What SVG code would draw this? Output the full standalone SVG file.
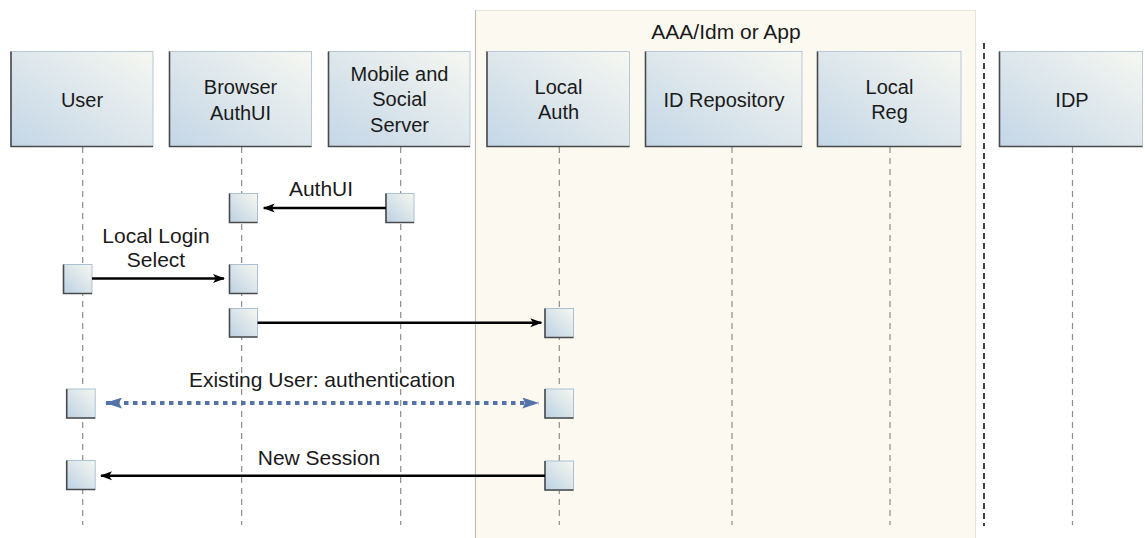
<svg xmlns="http://www.w3.org/2000/svg" width="1145" height="538" viewBox="0 0 1145 538">
<defs>
<linearGradient id="hg" x1="0" y1="1" x2="1" y2="0">
<stop offset="0" stop-color="#c4d6e6"/>
<stop offset="1" stop-color="#f6f7f1"/>
</linearGradient>
<linearGradient id="ag" x1="0" y1="1" x2="1" y2="0">
<stop offset="0" stop-color="#bcd1e3"/>
<stop offset="1" stop-color="#f6f7f0"/>
</linearGradient>
<marker id="ah" viewBox="0 0 12 10" markerWidth="12" markerHeight="10" refX="11" refY="5" orient="auto" markerUnits="userSpaceOnUse">
<path d="M0,0.5 L12,5 L0,9.5 L3,5 z" fill="#000"/>
</marker>
<marker id="bh" viewBox="0 0 17 11" markerWidth="17" markerHeight="11" refX="16" refY="5.5" orient="auto-start-reverse" markerUnits="userSpaceOnUse">
<path d="M0,0 L17,5.5 L0,11 L3,5.5 z" fill="#5473a8"/>
</marker>
</defs>
<style>
text{font-family:"Liberation Sans",Arial,Helvetica,sans-serif;font-size:20px;fill:#1a1a1a;text-anchor:middle}
text.m{font-size:21px}
.hb{fill:url(#hg);stroke:#b7c9d8;stroke-width:1}
.ab{fill:url(#ag);stroke:#aac1d5;stroke-width:1}
.sh{fill:none;stroke:#4a4a4a;stroke-width:1.6}
.ll{stroke:#8c8c8c;stroke-width:1.2;stroke-dasharray:6 5;fill:none}
.msg{stroke:#000;stroke-width:2.4;fill:none;marker-end:url(#ah)}
.dot{stroke:#5473a8;stroke-width:4;stroke-dasharray:4.5 4.5;fill:none;marker-start:url(#bh);marker-end:url(#bh)}
</style>
<rect width="1145" height="538" fill="#fff"/>
<g id="container">
<rect x="475.5" y="10.5" width="500" height="540" fill="#fcf9f1" stroke="#e9e4d8" stroke-width="1"/>
<line x1="475.5" y1="10.5" x2="475.5" y2="538" stroke="#c2beb5" stroke-width="1.2"/>
<text class="m" x="726" y="39.3">AAA/Idm or App</text>
</g>
<line id="separator" x1="984" y1="43" x2="984" y2="526" stroke="#111" stroke-width="1.6" stroke-dasharray="6 4"/>
<g id="lifelines">
<line class="ll" x1="82.7" y1="147" x2="82.7" y2="525"/>
<line class="ll" x1="241.7" y1="147" x2="241.7" y2="525"/>
<line class="ll" x1="400.7" y1="147" x2="400.7" y2="525"/>
<line class="ll" x1="559.3" y1="147" x2="559.3" y2="525"/>
<line class="ll" x1="732" y1="147" x2="732" y2="525"/>
<line class="ll" x1="890" y1="147" x2="890" y2="525"/>
<line class="ll" x1="1072.5" y1="147" x2="1072.5" y2="525"/>
</g>
<g id="user">
<rect class="hb" x="11" y="51.5" width="142" height="95"/>
<polyline class="sh" points="11,51.5 11,146.5 153,146.5"/>
<text x="82" y="106.7">User</text>
</g>
<g id="browser">
<rect class="hb" x="169.5" y="51.5" width="142" height="95"/>
<polyline class="sh" points="169.5,51.5 169.5,146.5 311.5,146.5"/>
<text x="240.5" y="94">Browser</text>
<text x="240.5" y="120">AuthUI</text>
</g>
<g id="mobile">
<rect class="hb" x="328.5" y="51.5" width="141.5" height="95"/>
<polyline class="sh" points="328.5,51.5 328.5,146.5 470,146.5"/>
<text x="399.5" y="80.7">Mobile and</text>
<text x="399.5" y="106.2">Social</text>
<text x="399.5" y="131.7">Server</text>
</g>
<g id="localauth">
<rect class="hb" x="487" y="51.5" width="142.5" height="95"/>
<polyline class="sh" points="487,51.5 487,146.5 629.5,146.5"/>
<text x="558.5" y="94">Local</text>
<text x="558.5" y="119.3">Auth</text>
</g>
<g id="idrepo">
<rect class="hb" x="645.5" y="51.5" width="156.5" height="95"/>
<polyline class="sh" points="645.5,51.5 645.5,146.5 802,146.5"/>
<text x="724" y="107.3">ID Repository</text>
</g>
<g id="localreg">
<rect class="hb" x="817.5" y="51.5" width="143.5" height="95"/>
<polyline class="sh" points="817.5,51.5 817.5,146.5 961,146.5"/>
<text x="889.5" y="94">Local</text>
<text x="889.5" y="119.3">Reg</text>
</g>
<g id="idp">
<rect class="hb" x="999.5" y="51.5" width="143" height="95"/>
<polyline class="sh" points="999.5,51.5 999.5,146.5 1142.5,146.5"/>
<text x="1072" y="107.3">IDP</text>
</g>
<g id="activations">
<g id="act-browser-1"><rect class="ab" x="229.5" y="193.5" width="28" height="29"/><polyline class="sh" points="229.5,193.5 229.5,222.5 257.5,222.5"/></g>
<g id="act-mobile-1"><rect class="ab" x="386" y="193.5" width="28" height="29"/><polyline class="sh" points="386,193.5 386,222.5 414,222.5"/></g>
<g id="act-user-1"><rect class="ab" x="63.5" y="264.5" width="28.5" height="29"/><polyline class="sh" points="63.5,264.5 63.5,293.5 92,293.5"/></g>
<g id="act-browser-2"><rect class="ab" x="229.5" y="264.5" width="28" height="29"/><polyline class="sh" points="229.5,264.5 229.5,293.5 257.5,293.5"/></g>
<g id="act-browser-3"><rect class="ab" x="229.5" y="308.5" width="28" height="28.5"/><polyline class="sh" points="229.5,308.5 229.5,337 257.5,337"/></g>
<g id="act-localauth-1"><rect class="ab" x="545" y="308.5" width="28.5" height="29"/><polyline class="sh" points="545,308.5 545,337.5 573.5,337.5"/></g>
<g id="act-user-2"><rect class="ab" x="66.7" y="389" width="28.5" height="29"/><polyline class="sh" points="66.7,389 66.7,418 95.2,418"/></g>
<g id="act-localauth-2"><rect class="ab" x="545" y="389" width="28.5" height="29"/><polyline class="sh" points="545,389 545,418 573.5,418"/></g>
<g id="act-user-3"><rect class="ab" x="66.7" y="460.5" width="28.5" height="29"/><polyline class="sh" points="66.7,460.5 66.7,489.5 95.2,489.5"/></g>
<g id="act-localauth-3"><rect class="ab" x="545" y="461" width="28.5" height="29"/><polyline class="sh" points="545,461 545,490 573.5,490"/></g>
</g>
<g id="connectors">
<line class="msg" x1="386" y1="208" x2="263.7" y2="208"/>
<line class="msg" x1="92" y1="278.5" x2="224" y2="278.5"/>
<line class="msg" x1="257.5" y1="322.7" x2="541.3" y2="322.7"/>
<line class="dot" x1="106" y1="403" x2="538.3" y2="403"/>
<line class="msg" x1="545" y1="475.7" x2="101" y2="475.7"/>
</g>
<g id="labels">
<text class="m" x="321" y="196">AuthUI</text>
<text class="m" x="156" y="242.7">Local Login</text>
<text class="m" x="156" y="267.3">Select</text>
<text class="m" x="322" y="386.7">Existing User: authentication</text>
<text class="m" x="319" y="465">New Session</text>
</g>
</svg>
